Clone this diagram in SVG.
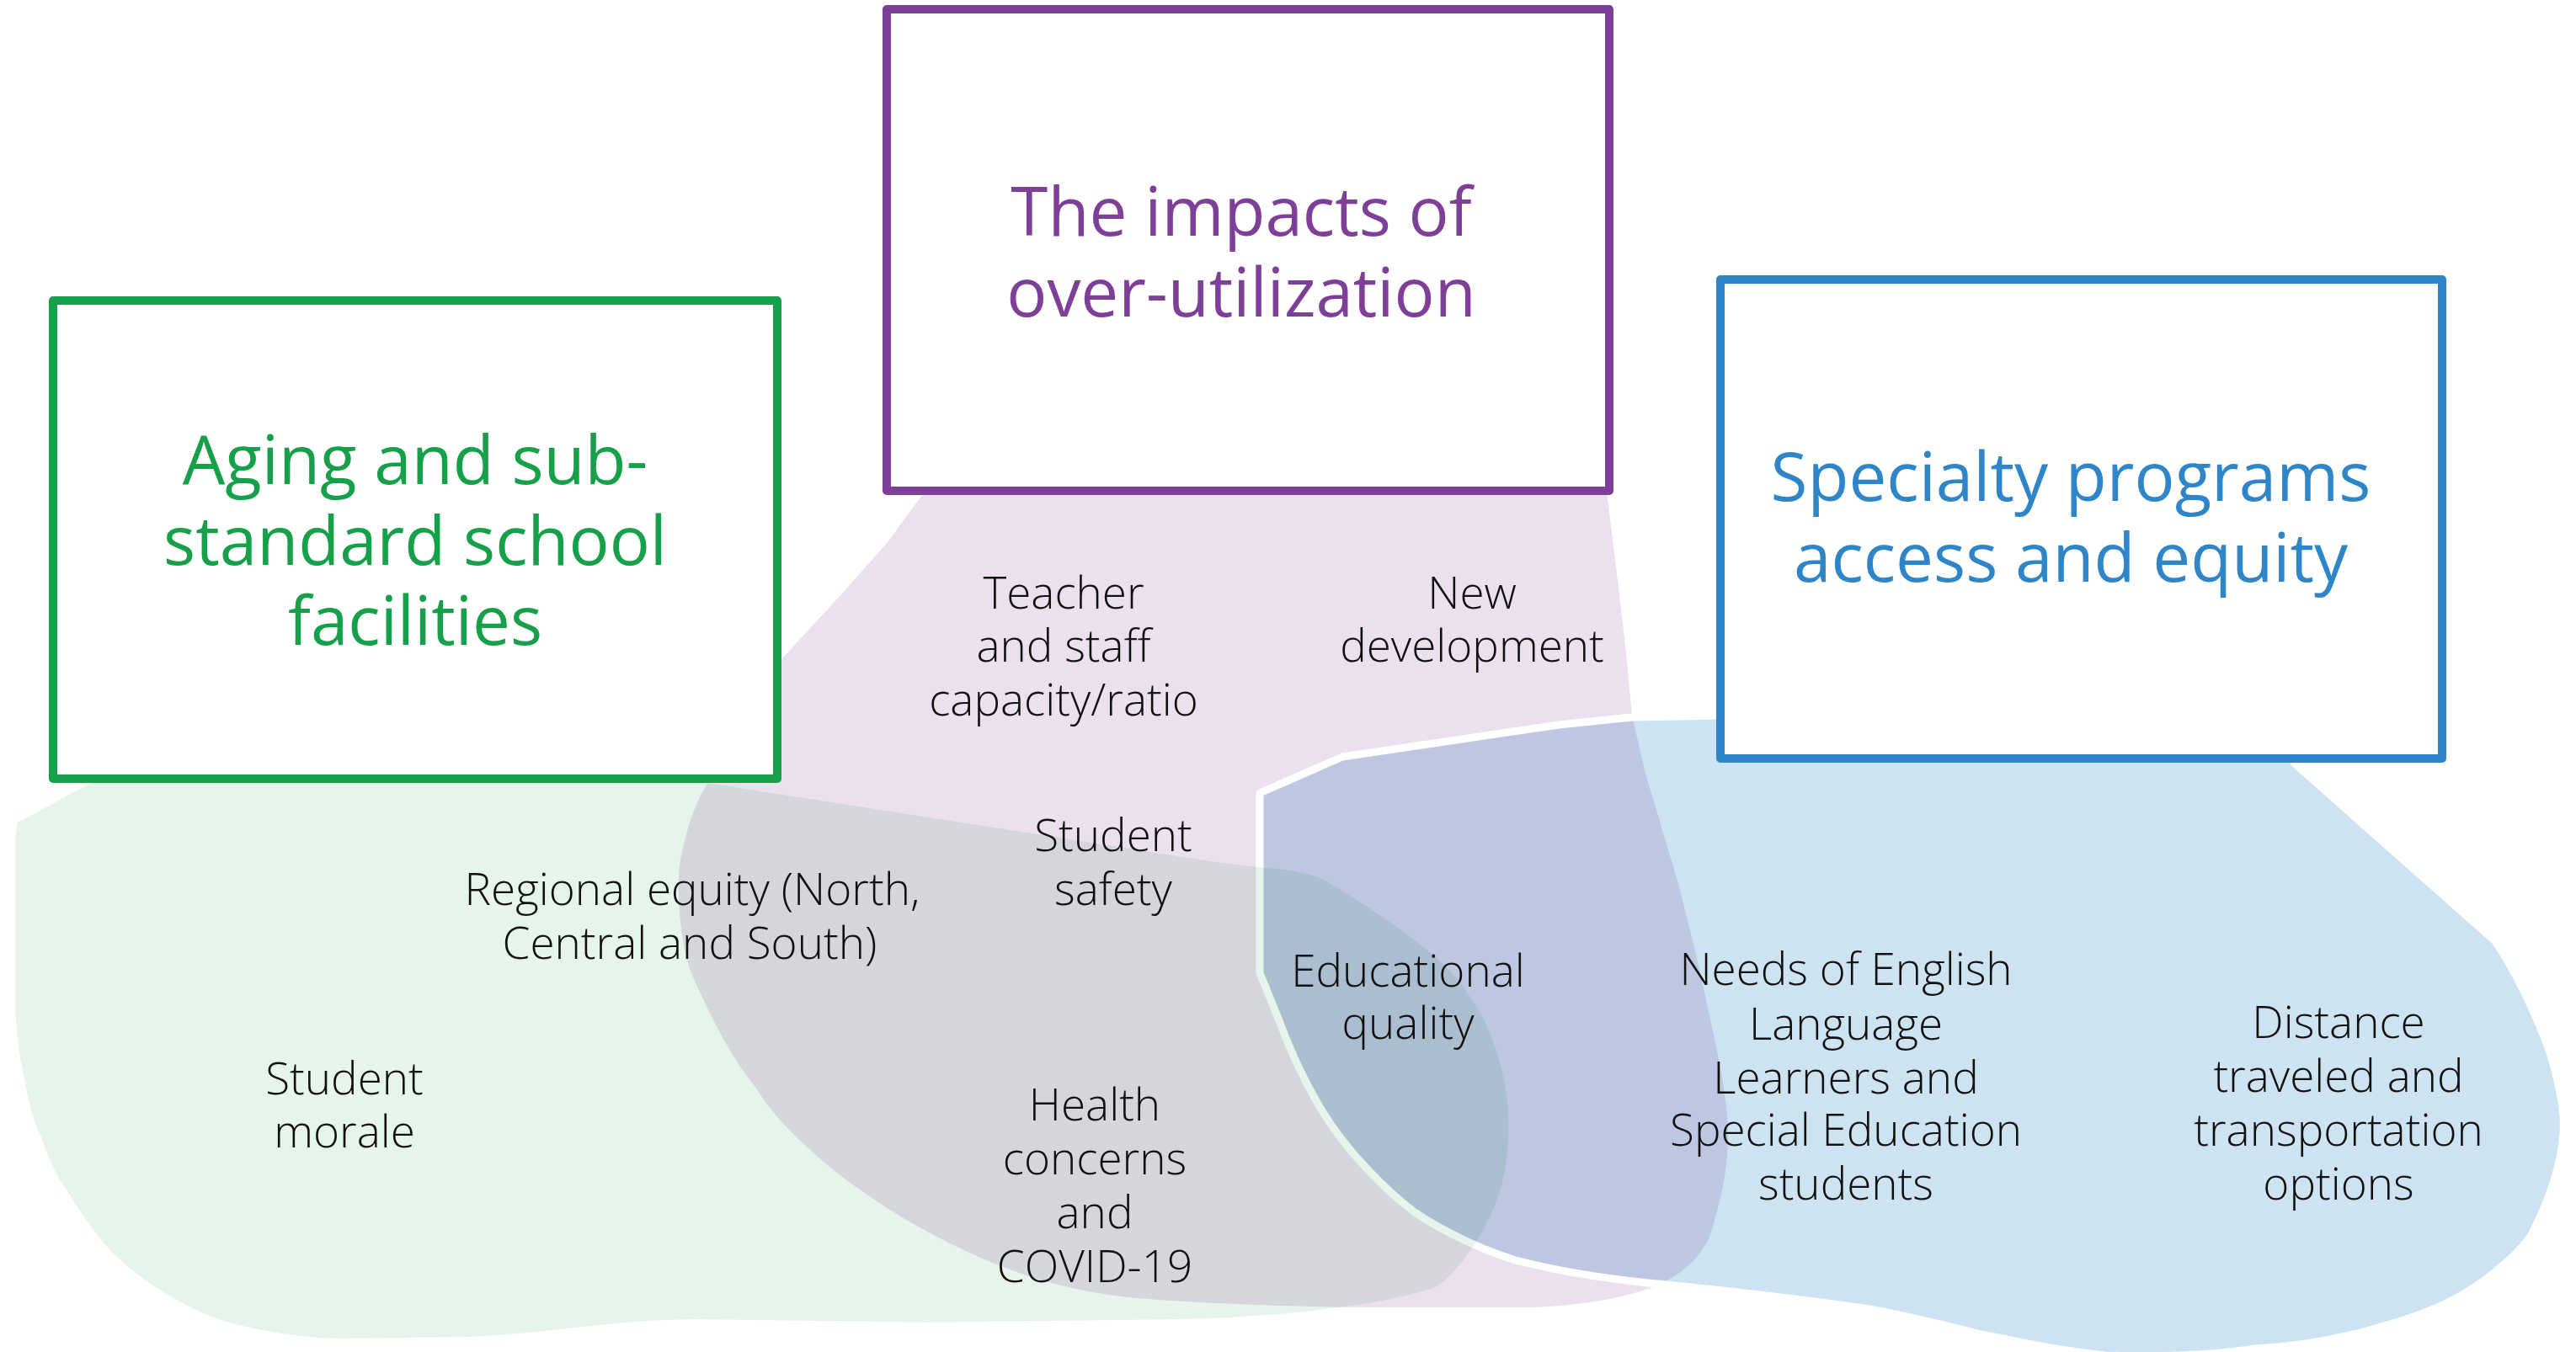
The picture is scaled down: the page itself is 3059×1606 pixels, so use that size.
<svg xmlns="http://www.w3.org/2000/svg" width="3059" height="1606" viewBox="0 0 3059 1606">
<style>
.blend{mix-blend-mode:multiply}
.box{fill:#ffffff;stroke-width:10;stroke-linejoin:round}
.title{font-family:"Open Sans","Liberation Sans",sans-serif;font-size:80px;text-anchor:middle}
.body{font-family:"Open Sans","Liberation Sans",sans-serif;font-weight:300;font-size:53px;fill:#111111;text-anchor:middle}
</style>
<defs>
<path id="blue-outline" d="M2050,850 L2050,840 L2700,840 L2725,907 L2963,1118 C2985,1150 3010,1200 3028,1250 C3040,1290 3046,1320 3044,1345 C3042,1380 3030,1420 3006,1467 C2990,1490 2975,1500 2963,1511 C2940,1530 2920,1542 2892,1554 C2860,1568 2830,1576 2803,1583 C2760,1594 2720,1600 2678,1602 C2630,1610 2560,1612 2500,1610 C2440,1604 2400,1594 2352,1585 C2300,1572 2260,1562 2220,1555 C2150,1545 2050,1533 1958,1524 C1900,1518 1850,1510 1800,1497 C1760,1485 1712,1462 1680,1440 C1640,1410 1601,1366 1580,1335 C1556,1299 1535,1255 1520,1215 C1510,1190 1502,1170 1496,1156 L1496,942 L1594,899 L1851,861 L1938,852 Z"/>
</defs>
<rect x="0" y="0" width="3059" height="1606" fill="#ffffff"/>
<g id="areas">
<path id="area-purple" class="blend" fill="#ebe0ee" d="M1095,588 L1095,575 L1905,575 L1908,584 L1921,689 L1931,775 L1938,850 L1954,919 L1994,1053 L2016,1142 C2035,1230 2050,1290 2052,1343 C2052,1390 2045,1420 2030,1470 C2015,1500 1990,1520 1954,1532 C1920,1543 1880,1550 1821,1553 L1600,1553 C1500,1551 1400,1547 1330,1540 C1250,1530 1180,1505 1107,1466 C1060,1442 1018,1412 990,1390 C960,1365 920,1330 897,1291 C870,1260 840,1200 821,1156 C808,1120 802,1060 808,1021 C815,985 825,955 839,932 L880,850 L929,782 L1000,705 L1054,644 Z"/>
<use id="area-blue" href="#blue-outline" class="blend" fill="#cee3f1"/>
<use id="blue-edge" href="#blue-outline" fill="none" stroke="#ffffff" stroke-width="9" stroke-linejoin="round"/>
<path id="area-green" class="blend" fill="#e6f4ec" d="M150,905 L112,928 L21,977 L18,994 L18,1196 C20,1230 24,1260 28,1277 C34,1310 42,1340 49,1350 C55,1370 62,1385 70,1400 C90,1430 105,1455 126,1480 C145,1500 160,1512 182,1527 C205,1542 225,1553 246,1562 C270,1572 300,1578 323,1582 C350,1587 380,1590 407,1590 L561,1588 C610,1585 660,1580 702,1575 C750,1570 790,1567 828,1567 L1100,1571 L1400,1567 C1450,1566 1480,1564 1505,1562 C1540,1559 1570,1556 1596,1552 C1630,1548 1670,1540 1702,1530 C1720,1522 1740,1495 1754,1473 C1770,1450 1780,1420 1785,1400 C1792,1370 1793,1330 1789,1300 C1783,1260 1770,1220 1748,1187 C1730,1160 1710,1140 1690,1125 C1670,1108 1640,1088 1614,1071 C1595,1058 1580,1050 1570,1044 C1550,1036 1525,1032 1503,1031 L1450,1025 L839,930 L700,905 Z"/>
</g>
<g id="node-green">
<rect class="box" x="63" y="357" width="860" height="568" stroke="#16a04a"/>
<text class="title" fill="#16a04a"><tspan x="493" y="575">Aging and sub-</tspan><tspan x="493" y="671">standard school</tspan><tspan x="493" y="766">facilities</tspan></text>
</g>
<g id="node-purple">
<rect class="box" x="1053" y="11" width="858" height="572" stroke="#7e3f98"/>
<text class="title" fill="#7e3f98"><tspan x="1474" y="280">The impacts of</tspan><tspan x="1474" y="376">over-utilization</tspan></text>
</g>
<g id="node-blue">
<rect class="box" x="2043" y="332" width="857" height="569" stroke="#2e86c8"/>
<text class="title" fill="#2e86c8"><tspan x="2459" y="595">Specialty programs</tspan><tspan x="2459" y="691">access and equity</tspan></text>
</g>
<g id="labels">
<text id="t-teacher" class="body"><tspan x="1263" y="723">Teacher</tspan><tspan x="1263" y="786">and staff</tspan><tspan x="1263" y="850">capacity/ratio</tspan></text>
<text id="t-newdev" class="body"><tspan x="1748" y="723">New</tspan><tspan x="1748" y="786">development</tspan></text>
<text id="t-safety" class="body"><tspan x="1322" y="1011">Student</tspan><tspan x="1322" y="1075">safety</tspan></text>
<text id="t-regional" class="body"><tspan x="822" y="1075">Regional equity (North,</tspan><tspan x="819" y="1139">Central and South)</tspan></text>
<text id="t-morale" class="body"><tspan x="409" y="1300">Student</tspan><tspan x="409" y="1363">morale</tspan></text>
<text id="t-health" class="body"><tspan x="1300" y="1331">Health</tspan><tspan x="1300" y="1395">concerns</tspan><tspan x="1300" y="1459">and</tspan><tspan x="1300" y="1523">COVID-19</tspan></text>
<text id="t-edu" class="body"><tspan x="1672" y="1172">Educational</tspan><tspan x="1672" y="1234">quality</tspan></text>
<text id="t-ell" class="body"><tspan x="2192" y="1170">Needs of English</tspan><tspan x="2192" y="1235">Language</tspan><tspan x="2192" y="1299">Learners and</tspan><tspan x="2192" y="1361">Special Education</tspan><tspan x="2192" y="1425">students</tspan></text>
<text id="t-distance" class="body"><tspan x="2777" y="1233">Distance</tspan><tspan x="2777" y="1297">traveled and</tspan><tspan x="2777" y="1361">transportation</tspan><tspan x="2777" y="1425">options</tspan></text>
</g>
</svg>
